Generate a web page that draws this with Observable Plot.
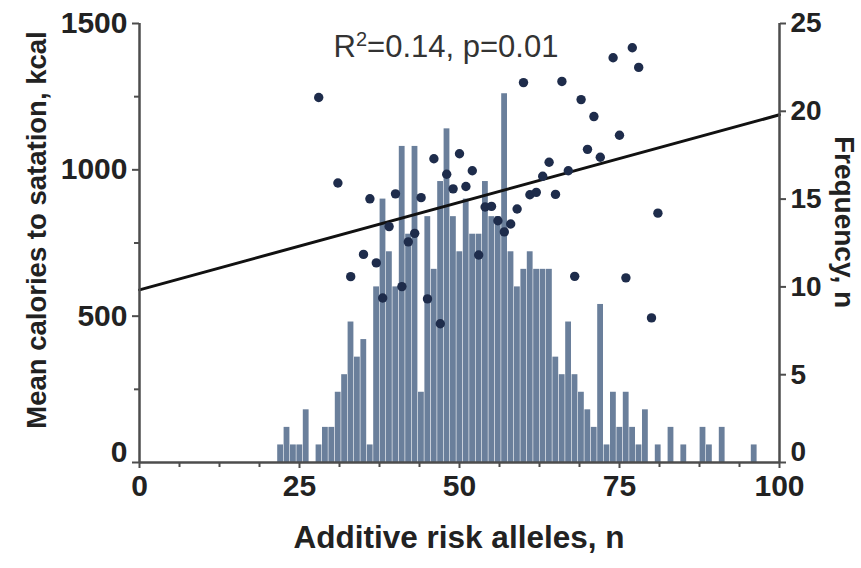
<!DOCTYPE html>
<html><head><meta charset="utf-8">
<script src="https://cdn.jsdelivr.net/npm/d3@7"></script>
<script src="https://cdn.jsdelivr.net/npm/@observablehq/plot@0.6"></script>
<style>
html,body{margin:0;padding:0;background:#fff;}
#chart{width:861px;height:568px;overflow:hidden;}
</style></head><body><div id="chart"></div>
<script>
// Histogram: frequency of individuals per additive risk allele count
const alleleCounts = [22,23,24,25,26,27,28,29,30,31,32,33,34,35,36,37,38,39,40,41,42,43,44,45,46,47,48,49,50,51,52,53,54,55,56,57,58,59,60,61,62,63,64,65,66,67,68,69,70,71,72,73,74,75,76,77,78,79,80,81,82,83,84,85,86,87,88,89,90,91,92,93,94,95,96];
const frequencies  = [1,2,1,1,3,0,1,2,2,4,5,8,6,7,1,10,15,12,10,18,13,18,4,14,11,16,19,14,12,15,13,13,16,14,14,21,12,10,11,12,11,11,11,6,5,8,5,4,3,2,9,1,4,2,4,2,1,3,0,1,0,2,0,1,0,0,2,1,0,2,0,0,0,0,1];

// Scatter: mean calories to satiation per allele count
const dotAlleles  = [28,31,33,35,36,37,38,39,40,41,42,43,44,45,46,47,48,49,50,51,52,53,54,55,56,57,58,59,60,61,62,63,64,65,66,67,68,69,70,71,72,74,75,76,77,78,80,81];
const dotCalories = [1247,955,635,711,901,682,562,806,918,601,754,783,905,559,1038,474,985,935,1055,943,997,709,873,875,826,788,815,866,1298,915,923,978,1026,916,1302,997,636,1240,1070,1182,1043,1383,1118,631,1417,1350,494,852];

// Regression line endpoints
const fitAlleles  = [0, 100];
const fitCalories = [590, 1188];

// Ticks
const xMajorTicks = [0, 25, 50, 75, 100];
const xMinorTicks = [6.25, 12.5, 18.75, 31.25, 37.5, 43.75, 56.25, 62.5, 68.75, 81.25, 87.5, 93.75];
const kcalTicks = [0, 500, 1000, 1500];
const kcalMinorTicks = [250, 750, 1250];
const freqTicks = [0, 5, 10, 15, 20, 25];

const kcalMax = 1500, freqMax = 25;
const freqToKcal = kcalMax / freqMax;

const bins = alleleCounts.map((a, i) => ({allele: a, freq: frequencies[i]}));
const dots = dotAlleles.map((a, i) => ({allele: a, kcal: dotCalories[i]}));
const fit = fitAlleles.map((a, i) => ({allele: a, kcal: fitCalories[i]}));

const axisColor = "#4d4d4d";
const font = "'Liberation Sans', Arial, Helvetica, sans-serif";

const plot = Plot.plot({
  width: 861, height: 568,
  marginLeft: 139, marginRight: 82, marginTop: 23, marginBottom: 106,
  style: {fontFamily: font, background: "#fff", color: "#222", overflow: "visible"},
  x: {domain: [0, 100]},
  y: {domain: [0, kcalMax]},
  marks: [
    Plot.rectY(bins, {x1: d => d.allele - 0.5, x2: d => d.allele + 0.5, y: d => d.freq * freqToKcal, fill: "#6a7f9b", insetLeft: 0.6}),
    Plot.line(fit, {x: "allele", y: "kcal", stroke: "#111", strokeWidth: 3}),
    Plot.dot(dots, {x: "allele", y: "kcal", r: 4.7, fill: "#1e2c4b"}),
    Plot.ruleX([0, 100], {stroke: axisColor, strokeWidth: 2.5}),
    Plot.ruleY([0], {stroke: axisColor, strokeWidth: 2.5}),
    Plot.axisX({ticks: xMajorTicks, tickSize: 6, tickPadding: 6, fontSize: 30, fontWeight: "bold", stroke: axisColor, strokeWidth: 2, label: null, fill: "#222", tickFormat: d => String(d)}),
    Plot.axisX({ticks: xMinorTicks, tickSize: 5, fill: "none", stroke: axisColor, strokeWidth: 2, label: null, tickFormat: null}),
    Plot.axisY({ticks: kcalTicks, tickSize: 7, tickPadding: 5, fontSize: 30, fontWeight: "bold", stroke: axisColor, strokeWidth: 2, label: null, fill: "#222", tickFormat: d => String(d)}),
    Plot.axisY({ticks: kcalMinorTicks, tickSize: 5, fill: "none", stroke: axisColor, strokeWidth: 2, label: null, tickFormat: null}),
    Plot.axisY({anchor: "right", ticks: freqTicks.map(f => f * freqToKcal), tickFormat: d => String(d / freqToKcal), tickSize: 6, tickPadding: 5, fontSize: 28, fontWeight: "bold", stroke: axisColor, strokeWidth: 2, label: null, fill: "#222"})
  ]
});

document.getElementById("chart").appendChild(plot);

const svg = d3.select(plot);

// Zero labels of the y axes sit slightly above the baseline, as in the original
svg.selectAll("g[aria-label='y-axis tick label'] text").each(function () {
  const t = d3.select(this);
  if (t.text() === "0") t.attr("transform", (t.attr("transform") || "") + " translate(0,-10)");
});

const title = svg.append("text")
  .attr("x", 446).attr("y", 57)
  .attr("text-anchor", "middle")
  .attr("font-family", font).attr("font-size", 31).attr("fill", "#333");
title.append("tspan").text("R");
title.append("tspan").attr("dy", -11).attr("font-size", 20).text("2");
title.append("tspan").attr("dy", 11).text("=0.14, p=0.01");

svg.append("text")
  .attr("transform", "translate(46,230) rotate(-90)")
  .attr("text-anchor", "middle")
  .attr("font-family", font).attr("font-size", 27.5).attr("font-weight", "bold").attr("fill", "#222")
  .text("Mean calories to satation, kcal");

svg.append("text")
  .attr("x", 459).attr("y", 548)
  .attr("text-anchor", "middle")
  .attr("font-family", font).attr("font-size", 31.5).attr("font-weight", "bold").attr("fill", "#222")
  .text("Additive risk alleles, n");

svg.append("text")
  .attr("transform", "translate(835,222) rotate(90)")
  .attr("text-anchor", "middle")
  .attr("font-family", font).attr("font-size", 28).attr("font-weight", "bold").attr("fill", "#222")
  .text("Frequency, n");
</script></body></html>
